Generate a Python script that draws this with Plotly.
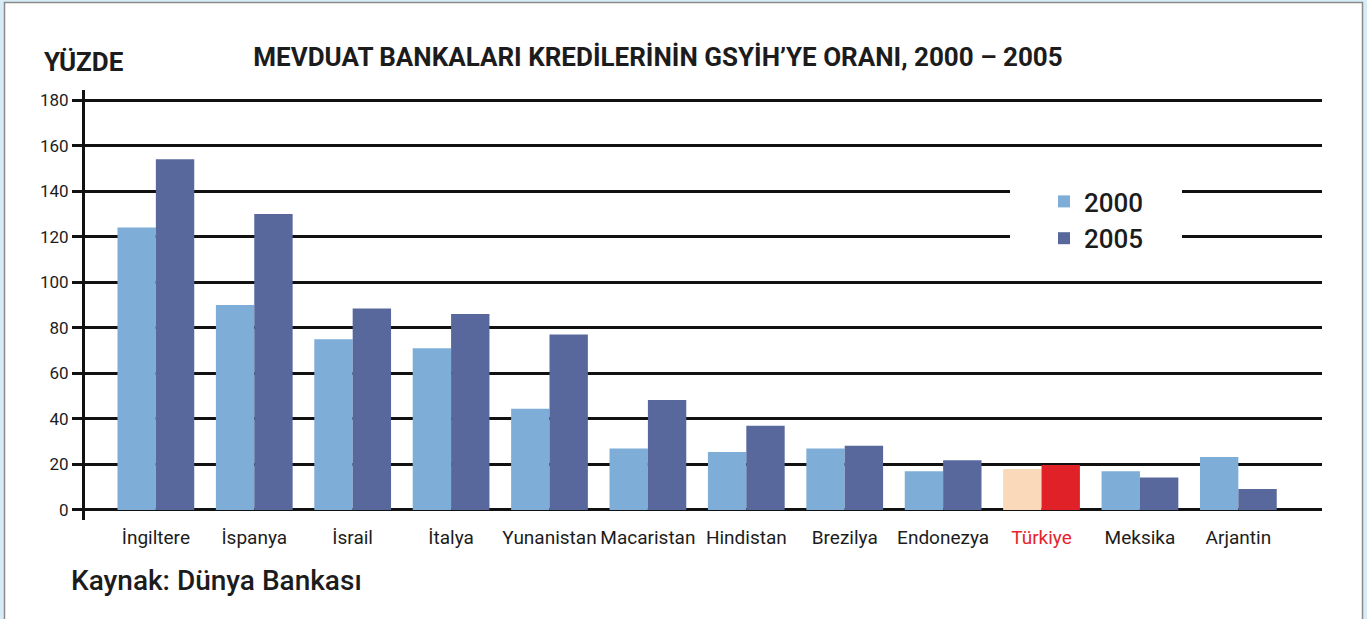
import plotly.graph_objects as go

# ---- data ----
categories = ["İngiltere", "İspanya", "İsrail", "İtalya", "Yunanistan", "Macaristan",
              "Hindistan", "Brezilya", "Endonezya", "Türkiye", "Meksika", "Arjantin"]
values_2000 = [124, 90, 75, 71, 44.5, 27, 25.5, 27, 17, 18, 17, 23.3]
values_2005 = [154, 130, 88.5, 86, 77, 48.3, 37, 28.2, 21.8, 19.8, 14.3, 9.2]
series_names = ["2000", "2005"]
y_ticks = [0, 20, 40, 60, 80, 100, 120, 140, 160, 180]
title_text = "MEVDUAT BANKALARI KREDİLERİNİN GSYİH’YE ORANI, 2000 – 2005"
y_title = "YÜZDE"
source_text = "Kaynak: Dünya Bankası"
highlight = "Türkiye"

# ---- style ----
W, H = 1367, 619
L, R, T, B = 85, 45, 90, 99
pw, ph = W - L - R, H - T - B
def px(x):
    return (x - L) / pw
def py(y):
    return (H - B - y) / ph

FONT = "Roboto, sans-serif"
C2000, C2005 = "#7eaed7", "#58689c"
H2000, H2005 = "#f9d9b9", "#e02128"
TXT = "#1c1c1c"

col2000 = [H2000 if c == highlight else C2000 for c in categories]
col2005 = [H2005 if c == highlight else C2005 for c in categories]
ticktext = [f"<span style='color:#e8232b'>{c}</span>" if c == highlight else c for c in categories]

fig = go.Figure()
fig.add_trace(go.Bar(x=categories, y=values_2000, name=series_names[0],
                     marker=dict(color=col2000, line=dict(width=0))))
fig.add_trace(go.Bar(x=categories, y=values_2005, name=series_names[1],
                     marker=dict(color=col2005, line=dict(width=0))))

fig.update_layout(
    width=W, height=H,
    margin=dict(l=L, r=R, t=T, b=B, autoexpand=False),
    paper_bgcolor="#d8ecf8",
    plot_bgcolor="white",
    barmode="group", bargap=0.22, bargroupgap=0,
    font=dict(family=FONT, color=TXT),
    showlegend=True,
    legend=dict(x=px(1044), y=py(178), xanchor="left", yanchor="top",
                bgcolor="rgba(0,0,0,0)", font=dict(size=26, color=TXT, weight=500),
                itemwidth=30, tracegroupgap=0),
    title=dict(text=f"<b>{title_text}</b>", xref="container", yref="container",
               x=658 / W, y=1 - 57 / H, xanchor="center", yanchor="middle",
               font=dict(size=26, color=TXT)),
)
fig.update_xaxes(type="category", range=[-0.72, 11.85], showline=False, showgrid=False,
                 ticks="", tickvals=categories, ticktext=ticktext, tickangle=0,
                 ticklabelstandoff=4,
                 tickfont=dict(size=19, color=TXT), zeroline=False, automargin=False)
fig.update_yaxes(range=[-4.4, 184.4], tickvals=y_ticks, showgrid=True, gridcolor="#111111",
                 gridwidth=3, showline=True, linecolor="#111111", linewidth=3,
                 ticks="outside", ticklen=10, tickwidth=3, tickcolor="#111111",
                 tickfont=dict(size=17, color=TXT), zeroline=False, automargin=False)

# frame: white card with grey border on light-blue page
fig.add_shape(type="rect", xref="paper", yref="paper", layer="below",
              x0=px(4.5), x1=px(1362.5), y0=py(660), y1=py(2.5),
              fillcolor="white", line=dict(color="#8a8a8a", width=1.5))
# blank area behind legend
fig.add_shape(type="rect", xref="paper", yref="paper", layer="above",
              x0=px(1010), x1=px(1182), y0=py(255), y1=py(178),
              fillcolor="white", line=dict(width=0))

fig.add_annotation(text=f"<b>{y_title}</b>", xref="paper", yref="paper",
                   x=px(42), y=py(62), xanchor="left", yanchor="middle",
                   showarrow=False, font=dict(size=26, color=TXT))
fig.add_annotation(text=source_text, xref="paper", yref="paper",
                   x=px(69), y=py(580), xanchor="left", yanchor="middle",
                   showarrow=False, font=dict(size=28, color=TXT, weight=500))

fig.write_html("out.html", config={"displayModeBar": False},
               post_script="document.body.style.margin='0';document.body.style.overflow='hidden';")
